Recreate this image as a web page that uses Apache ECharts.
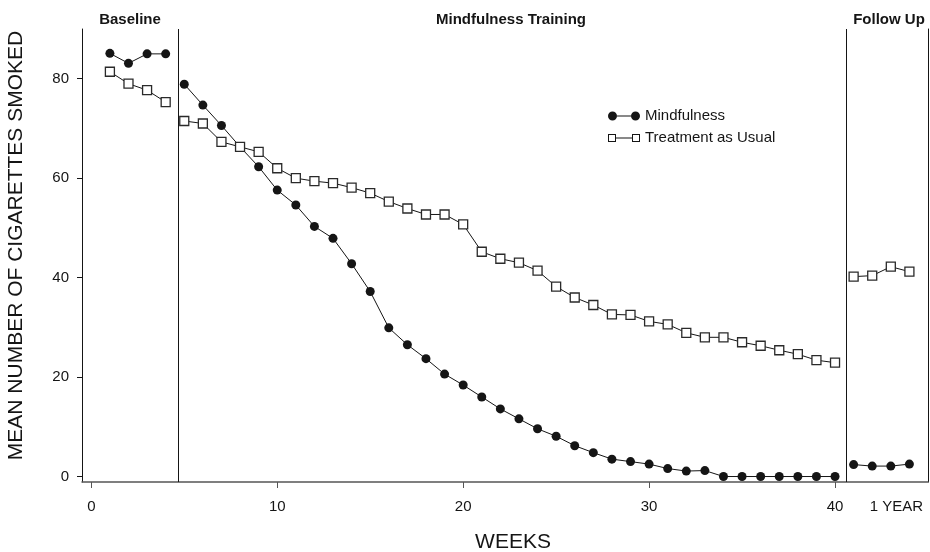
<!DOCTYPE html>
<html>
<head>
<meta charset="utf-8">
<script src="https://cdn.jsdelivr.net/npm/echarts@6/dist/echarts.min.js"></script>
<style>
  html, body { margin: 0; padding: 0; background: #fff; }
  #chart { width: 930px; height: 552px; }
</style>
</head>
<body>
<div id="chart"></div>
<script>
// weeks of each phase
const baselineWeeks = [1, 2, 3, 4]
const trainingWeeks = [5, 6, 7, 8, 9, 10, 11, 12, 13, 14, 15, 16, 17, 18, 19, 20, 21, 22,
  23, 24, 25, 26, 27, 28, 29, 30, 31, 32, 33, 34, 35, 36, 37, 38, 39, 40]
const followWeeks = [41, 42, 43, 44]

// Mindfulness
const mindBaseline = [85.1, 83.1, 85.0, 85.0]
const mindTraining = [78.9, 74.7, 70.6, 66.3, 62.3, 57.6, 54.6, 50.3, 47.9, 42.8, 37.2, 29.9,
  26.5, 23.7, 20.6, 18.4, 16.0, 13.6, 11.6, 9.6, 8.1, 6.2, 4.8, 3.5, 3.0, 2.5, 1.6, 1.1, 1.2,
  0, 0, 0, 0, 0, 0, 0]
const mindFollow = [2.4, 2.1, 2.1, 2.5]

// Treatment as Usual
const tauBaseline = [81.4, 79.0, 77.7, 75.3]
const tauTraining = [71.5, 71.0, 67.3, 66.3, 65.3, 62.0, 60.0, 59.4, 59.0, 58.1, 57.0, 55.3,
  53.9, 52.7, 52.7, 50.7, 45.2, 43.8, 43.0, 41.4, 38.2, 36.0, 34.5, 32.6, 32.5, 31.2, 30.6,
  28.9, 28.0, 28.0, 27.0, 26.3, 25.4, 24.6, 23.4, 22.9]
const tauFollow = [40.2, 40.4, 42.2, 41.2]

const xTicks = [0, 10, 20, 30, 40]
const yTicks = [0, 20, 40, 60, 80]
const followLabel = '1 YEAR'
const phaseBreaks = [4.65, 40.6]
const phaseNames = ['Baseline', 'Mindfulness Training', 'Follow Up']

const font = 'Liberation Sans, Arial, Helvetica, sans-serif'
const ink = '#151515'

const pairs = (xs, ys) => xs.map((x, i) => [x, ys[i]])

const mindStyle = {
  type: 'line',
  name: 'Mindfulness',
  symbol: 'circle',
  symbolSize: 9,
  itemStyle: { color: ink },
  lineStyle: { color: ink, width: 1 },
  z: 3
}
const tauStyle = {
  type: 'line',
  name: 'Treatment as Usual',
  symbol: 'rect',
  symbolSize: 9,
  itemStyle: { color: '#fff', borderColor: '#2a2a2a', borderWidth: 1.3 },
  lineStyle: { color: ink, width: 1 },
  z: 4
}

const segments = [
  [baselineWeeks, mindBaseline, tauBaseline],
  [trainingWeeks, mindTraining, tauTraining],
  [followWeeks, mindFollow, tauFollow]
]
const series = []
segments.forEach(([w, m, t]) => {
  series.push(Object.assign({}, mindStyle, { data: pairs(w, m) }))
})
segments.forEach(([w, m, t]) => {
  series.push(Object.assign({}, tauStyle, { data: pairs(w, t) }))
})
// phase dividers
series[0].markLine = {
  silent: true,
  symbol: ['none', 'none'],
  label: { show: false },
  lineStyle: { color: ink, width: 1, type: 'solid' },
  data: phaseBreaks.map(v => ({ xAxis: v }))
}

// legend icons: marker - line - marker
const mindIcon = 'path://M0,4.5A4.5,4.5 0 1,0 9,4.5A4.5,4.5 0 1,0 0,4.5Z' +
  'M23,4.5A4.5,4.5 0 1,0 32,4.5A4.5,4.5 0 1,0 23,4.5Z M9,4L23,4L23,5L9,5Z'
const tauIcon = 'path://M0,0.5L8,0.5L8,8.5L0,8.5Z M1,1.5L1,7.5L7,7.5L7,1.5Z' +
  'M24,0.5L32,0.5L32,8.5L24,8.5Z M25,1.5L25,7.5L31,7.5L31,1.5Z M8,4L24,4L24,5L8,5Z'

const chart = echarts.init(document.getElementById('chart'))
const option = {
  animation: false,
  backgroundColor: '#fff',
  textStyle: { fontFamily: font },
  grid: { left: 82, right: 2, top: 29, bottom: 70, outerBoundsMode: 'none' },
  legend: {
    orient: 'vertical',
    left: 603,
    top: 103,
    itemWidth: 32,
    itemHeight: 9,
    itemGap: 6,
    itemTextGap: 12,
    textStyle: { fontSize: 15, color: ink, fontFamily: font, lineHeight: 16 },
    data: [
      { name: 'Mindfulness', icon: mindIcon, itemStyle: { color: ink, borderWidth: 0 } },
      { name: 'Treatment as Usual', icon: tauIcon, itemStyle: { color: ink, borderWidth: 0 } }
    ]
  },
  xAxis: {
    type: 'value',
    min: -0.5,
    max: 45,
    name: 'WEEKS',
    nameLocation: 'middle',
    nameGap: 50,
    nameTextStyle: { fontSize: 21, color: ink, fontFamily: font, padding: [0, 0, 0, 16] },
    axisLine: { onZero: false, lineStyle: { color: '#555', width: 1.5 } },
    axisTick: { customValues: xTicks, length: 6, lineStyle: { color: '#555' } },
    axisLabel: {
      customValues: xTicks.concat([43.3]),
      formatter: v => (v > 40 ? followLabel : String(v)),
      fontSize: 15,
      color: ink,
      margin: 17
    },
    splitLine: { show: false }
  },
  yAxis: [{
    type: 'value',
    min: -1.1,
    max: 90,
    name: 'MEAN NUMBER OF CIGARETTES SMOKED',
    nameLocation: 'middle',
    nameGap: 55,
    nameTextStyle: { fontSize: 21, color: ink, fontFamily: font, padding: [0, 0, 0, 20] },
    axisLine: { show: true, onZero: false, lineStyle: { color: ink, width: 1 } },
    axisTick: { show: true, customValues: yTicks, length: 5, lineStyle: { color: ink } },
    axisLabel: { customValues: yTicks, fontSize: 15, color: ink, margin: 13 },
    splitLine: { show: false }
  }, {
    // right frame line
    type: 'value',
    position: 'right',
    min: -1.1,
    max: 90,
    axisLine: { show: true, onZero: false, lineStyle: { color: ink, width: 1 } },
    axisTick: { show: false },
    axisLabel: { show: false },
    splitLine: { show: false }
  }],
  graphic: [
    { left: 130, phase: 0 },
    { left: 511, phase: 1 },
    { left: 889, phase: 2 }
  ].map(g => ({
    type: 'text',
    x: g.left,
    y: 19.5,
    style: {
      text: phaseNames[g.phase],
      font: 'bold 15px ' + font,
      fill: ink,
      textAlign: 'center',
      textVerticalAlign: 'middle'
    }
  })),
  series
}
chart.setOption(option)
window.onresize = () => {
  chart.resize()
}
</script>
</body>
</html>
